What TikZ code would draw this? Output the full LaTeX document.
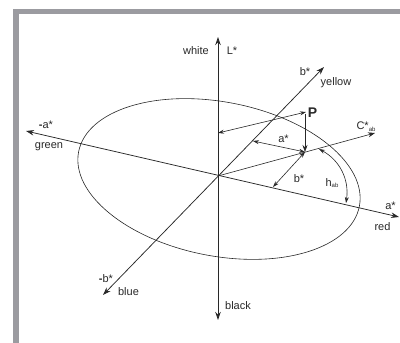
\documentclass[tikz,border=0pt]{standalone}
\usepackage{fontspec}
\setmainfont{Liberation Sans}
\usepackage{tikz}
\usetikzlibrary{arrows.meta}
\definecolor{labgray}{RGB}{155,155,160}
\definecolor{labink}{RGB}{40,40,40}

\begin{document}
\begin{tikzpicture}[x=1pt,y=1pt,font=\fontsize{11}{13}\selectfont,
  axis/.style={labink,line width=0.75pt,{Stealth[length=8pt,width=5.5pt]}-{Stealth[length=8pt,width=5.5pt]}},
  dim/.style={labink,line width=0.6pt,{Stealth[length=6pt,width=4pt]}-{Stealth[length=6pt,width=4pt]}},
  ray/.style={labink,line width=0.6pt,arrows={-Stealth[length=7pt,width=5pt]}},
  lbl/.style={labink,inner sep=1pt}]
  \useasboundingbox (0,0) rectangle (400,343);
  \fill[labgray] (13,0) rectangle (19,334);
  \fill[labgray] (13,329) rectangle (400,334);
  % colour solid
  \draw[labink,line width=0.6pt,rotate around={-11:(219,164)}] (219,164) ellipse [x radius=143pt,y radius=77pt];
  % axes
  \coordinate (o) at (218,167);
  \coordinate (ltop) at (218,306);
  \coordinate (lbot) at (218,23);
  \coordinate (amin) at (26,212);
  \coordinate (aplus) at (399,126);
  \coordinate (bplus) at (324,276);
  \coordinate (bmin) at (103,48);
  \draw[axis,line width=0.9pt] (lbot) -- (ltop);
  \draw[axis] (amin) -- (aplus);
  \draw[axis] (bmin) -- (bplus);
  % point P and its projection
  \coordinate (q) at (305,191);
  \coordinate (p) at (305,229);
  \coordinate (c) at (375,210);
  \coordinate (lp) at (218,210);
  \coordinate (pa) at (306,231);
  \coordinate (ab) at (253,202);
  \coordinate (ba) at (273,156);
  \coordinate (h1) at (319,194);
  \coordinate (h2) at (346,140);
  \draw[ray] (o) -- (c);
  \draw[ray] (p) -- (q);
  \draw[dim] (lp) -- (pa);
  \draw[dim] (ab) -- (q);
  \draw[dim] (q) -- (ba);
  \draw[dim] (h1) to[bend left=35] (h2);
  % labels
  \node[lbl] (white) at (196,292) {white};
  \node[lbl] (lstar) at (232,292) {L*};
  \node[lbl] (bstar) at (305,271) {b*};
  \node[lbl] (yellow) at (336,260) {yellow};
  \node[lbl,font=\fontsize{14}{16}\selectfont\bfseries] (plbl) at (312.5,230.5) {P};
  \node[lbl] (amstar) at (46,218) {{\bfseries -}a*};
  \node[lbl] (green) at (49,196) {green};
  \node[lbl] (cstar) at (366,216) {C*\raisebox{-2pt}{\fontsize{6}{7}\selectfont ab}};
  \node[lbl] (adim) at (283.5,204) {a*};
  \node[lbl] (bdim) at (299,164) {b*};
  \node[lbl] (hab) at (332,160) {h\raisebox{-1pt}{\fontsize{6}{7}\selectfont ab}};
  \node[lbl] (astar) at (390.5,137) {a*};
  \node[lbl] (red) at (382.5,116) {red};
  \node[lbl] (bmstar) at (106,64) {{\bfseries -}b*};
  \node[lbl] (blue) at (128.5,51) {blue};
  \node[lbl] (black) at (238,37) {black};
\end{tikzpicture}
\end{document}
